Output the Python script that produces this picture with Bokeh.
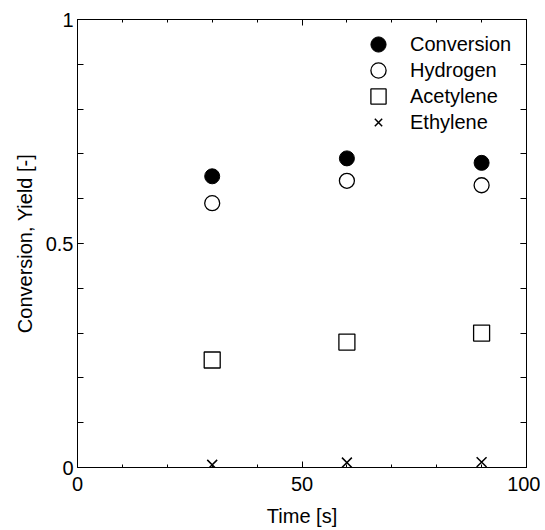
from bokeh.plotting import figure
from bokeh.models import LinearAxis, FixedTicker, Legend, LegendItem, Range1d, CustomLabelingPolicy
from bokeh.embed import file_html
from bokeh.resources import INLINE

# data
time_s = [30, 60, 90]
conversion = [0.65, 0.69, 0.68]
hydrogen = [0.59, 0.64, 0.63]
acetylene = [0.24, 0.28, 0.30]
ethylene = [0.006, 0.011, 0.012]

series_names = ["Conversion", "Hydrogen", "Acetylene", "Ethylene"]

x_major = [0, 50, 100]
x_minor = list(range(0, 101, 10))
y_major = [0, 0.5, 1]
y_minor = [i / 10 for i in range(11)]
y_labels = {0: "0", 0.5: "0.5", 1: "1"}

FONT = "Liberation Sans"
FS = "20px"

p = figure(width=540, height=530, output_backend="svg", toolbar_location=None,
           x_range=Range1d(0, 100), y_range=Range1d(0, 1),
           x_axis_type=None, y_axis_type=None,
           min_border_left=77, min_border_right=14, min_border_top=19, min_border_bottom=63)
p.grid.visible = False
p.outline_line_color = "black"
p.outline_line_width = 1
p.background_fill_color = "white"
p.border_fill_color = "white"

hide_all = CustomLabelingPolicy(code="""
for (const i of Array.from(indices)) { indices.unset(i) }
return indices
""")


def make_axis(kind, show_labels, label=None):
    ax = LinearAxis()
    if kind == "x":
        ax.ticker = FixedTicker(ticks=x_major, minor_ticks=x_minor)
        ax.major_tick_in = 6
        ax.minor_tick_in = 3
    else:
        ax.ticker = FixedTicker(ticks=y_major, minor_ticks=y_minor)
        ax.major_tick_in = 6
        ax.minor_tick_in = 6
        ax.major_label_overrides = y_labels
    ax.major_tick_out = 0
    ax.minor_tick_out = 0
    ax.axis_line_color = None
    ax.major_tick_line_color = "black"
    ax.minor_tick_line_color = "black"
    ax.major_label_text_font = FONT
    ax.major_label_text_color = "black"
    if show_labels:
        ax.major_label_text_font_size = FS
        ax.major_label_standoff = 9 if kind == "x" else 4
        if label:
            ax.axis_label = label
            ax.axis_label_text_font = FONT
            ax.axis_label_text_font_size = FS
            ax.axis_label_text_font_style = "normal"
            ax.axis_label_text_color = "black"
            ax.axis_label_standoff = 11 if kind == "x" else 7
    else:
        ax.major_label_text_font_size = "1px"
        ax.major_label_standoff = 0
        ax.major_label_policy = hide_all
    return ax


p.add_layout(make_axis("x", True, "Time [s]"), "below")
p.add_layout(make_axis("y", True, "Conversion, Yield [-]"), "left")
p.add_layout(make_axis("x", False), "above")
p.add_layout(make_axis("y", False), "right")

r1 = p.scatter(time_s, conversion, marker="circle", size=15, fill_color="black", line_color="black")
r2 = p.scatter(time_s, hydrogen, marker="circle", size=15, fill_color="white", line_color="black", line_width=1.3)
r3 = p.scatter(time_s, acetylene, marker="square", size=16, fill_color="white", line_color="black", line_width=1.3)
r4 = p.scatter(time_s, ethylene, marker="x", size=14, line_color="black", line_width=1.5)

# one legend per row so that the legend glyphs can be as large as in the reference
renderers = [r1, r2, r3, r4]
glyph_sizes = [38, 38, 38, 26]
row_pitch = 26
first_row_center = 25  # px below frame top
frame_h = 448
glyph_center_x = 301   # px from frame left
text_offset = 32       # text start minus glyph center

for i, (name, r, g) in enumerate(zip(series_names, renderers, glyph_sizes)):
    center = first_row_center + i * row_pitch
    top = center - g / 2
    lg = Legend(items=[LegendItem(label=name, renderers=[r])],
                location=(glyph_center_x - g / 2, frame_h - top - g))
    lg.border_line_color = None
    lg.background_fill_alpha = 0
    lg.padding = 0
    lg.margin = 0
    lg.spacing = 0
    lg.glyph_width = g
    lg.glyph_height = g
    lg.label_height = 20
    lg.label_standoff = int(text_offset - g / 2)
    lg.label_text_font = FONT
    lg.label_text_font_size = FS
    lg.label_text_color = "black"
    p.add_layout(lg)

open("out.html", "w").write(file_html(p, INLINE))
